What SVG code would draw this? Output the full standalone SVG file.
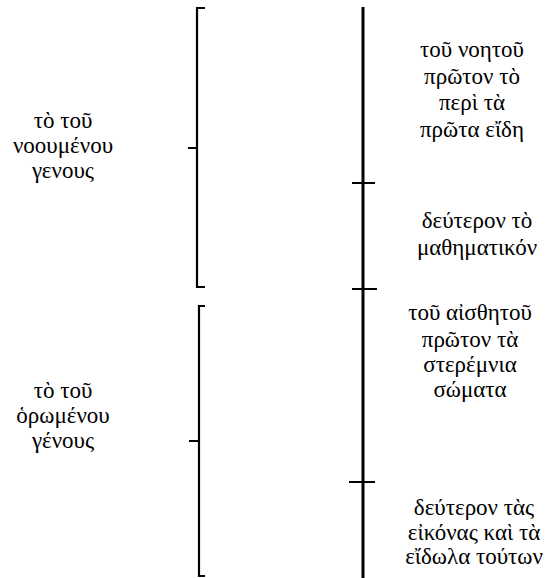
<svg xmlns="http://www.w3.org/2000/svg" width="552" height="578" viewBox="0 0 552 578">
<style>
.t{font-family:"Liberation Serif","DejaVu Serif",serif;font-size:23px;fill:#000;text-anchor:middle}
.br{fill:none;stroke:#000;stroke-width:2.2}
.ax{stroke:#000;stroke-width:3;fill:none}
.tk{stroke:#000;stroke-width:2;fill:none}
</style>
<rect width="552" height="578" fill="#fff"/>
<g id="connectors">
<path id="axis" class="ax" d="M363,7V578"/>
<path class="tk" d="M352,183H375"/>
<path class="tk" d="M352,289H377"/>
<path class="tk" d="M349,482H375"/>
<path id="bracket1" class="br" d="M205,8H197V287H205M197,148H188"/>
<path id="bracket2" class="br" d="M205,306H199V576H205M199,441H189"/>
</g>
<g id="noumenou">
<text class="t" x="63" y="128">τὸ τοῦ</text>
<text class="t" x="63" y="153">νοουμένου</text>
<text class="t" x="63" y="178">γενους</text>
</g>
<g id="horomenou">
<text class="t" x="63" y="398">τὸ τοῦ</text>
<text class="t" x="63" y="423">ὁρωμένου</text>
<text class="t" x="63" y="448">γένους</text>
</g>
<g id="noetou">
<text class="t" x="472" y="57">τοῦ νοητοῦ</text>
<text class="t" x="472" y="84">πρῶτον τὸ</text>
<text class="t" x="472" y="110">περὶ τὰ</text>
<text class="t" x="472" y="137">πρῶτα εἴδη</text>
</g>
<g id="mathematikon">
<text class="t" x="477" y="228">δεύτερον τὸ</text>
<text class="t" x="477" y="255">μαθηματικόν</text>
</g>
<g id="aisthetou">
<text class="t" x="470" y="320">τοῦ αἰσθητοῦ</text>
<text class="t" x="470" y="347">πρῶτον τὰ</text>
<text class="t" x="470" y="372">στερέμνια</text>
<text class="t" x="470" y="397">σώματα</text>
</g>
<g id="eikonas">
<text class="t" x="474" y="515">δεύτερον τὰς</text>
<text class="t" x="474" y="540">εἰκόνας καὶ τὰ</text>
<text class="t" x="474" y="564">εἴδωλα τούτων</text>
</g>
</svg>
